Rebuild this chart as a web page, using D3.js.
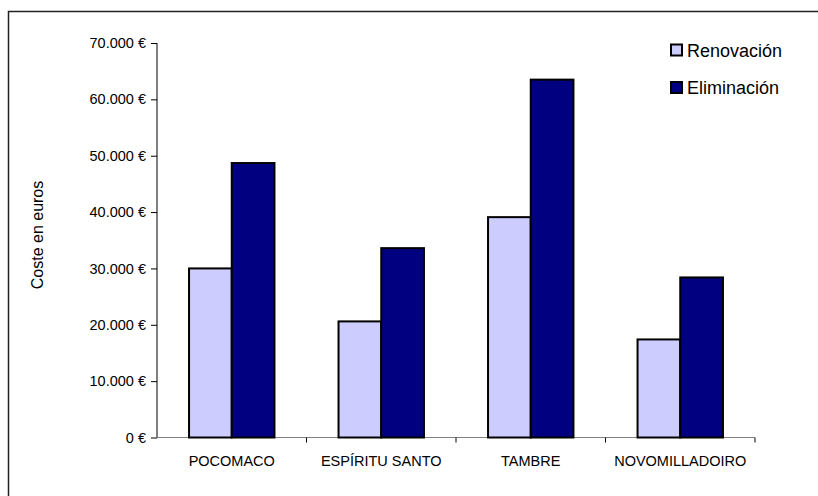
<!DOCTYPE html>
<html>
<head>
<meta charset="utf-8">
<script src="https://cdn.jsdelivr.net/npm/d3@7"></script>
<style>
  html, body { margin: 0; padding: 0; background: #fff; }
  svg { display: block; }
  text { font-family: "Liberation Sans", Arial, sans-serif; fill: #000; }
</style>
</head>
<body>
<svg id="chart" width="818" height="496"></svg>
<script>
const categories = ["POCOMACO", "ESPÍRITU SANTO", "TAMBRE", "NOVOMILLADOIRO"];
const seriesNames = ["Renovación", "Eliminación"];
const renovacion = [30000, 20600, 39100, 17400];
const eliminacion = [48700, 33600, 63500, 28400];
const yTicks = [0, 10000, 20000, 30000, 40000, 50000, 60000, 70000];
const colors = ["#CCCCFF", "#000080"];

(function () {
const svg = d3.select("#chart");
const W = 818, H = 496;
const mLeft = 157, mRight = 755, mTop = 43, mBottom = 437.5;

// outer border
svg.append("rect")
  .attr("x", 8.5).attr("y", 11.5)
  .attr("width", W + 10).attr("height", H + 10)
  .attr("fill", "none").attr("stroke", "#222").attr("stroke-width", 1.5);

const x = d3.scaleBand().domain(categories).range([mLeft, mRight]).paddingInner(0).paddingOuter(0);
const sub = d3.scaleBand().domain(seriesNames).range([0, x.bandwidth()]).paddingInner(0).paddingOuter(0.75);
const y = d3.scaleLinear().domain([0, 70000]).range([mBottom, mTop]);

const fmt = v => d3.format(",")(v).replace(/,/g, ".") + " €";

const data = categories.map((c, i) => ({ cat: c, values: [renovacion[i], eliminacion[i]] }));

// x axis line (under bars)
const xAxisG = svg.append("g").attr("transform", `translate(0,${mBottom})`);
xAxisG.append("line").attr("x1", mLeft).attr("x2", mRight).attr("stroke", "#808080").attr("stroke-width", 1);

// bars
const g = svg.append("g");
data.forEach(d => {
  d.values.forEach((v, j) => {
    g.append("rect")
      .attr("x", x(d.cat) + sub(seriesNames[j]))
      .attr("y", y(v))
      .attr("width", sub.bandwidth())
      .attr("height", y(0) - y(v))
      .attr("fill", colors[j])
      .attr("stroke", "#000")
      .attr("stroke-width", 2);
  });
});

const xTickPos = categories.map(c => x(c)).concat([x.range()[1]]);
xAxisG.selectAll("line.tick").data(xTickPos.slice(1)).enter().append("line")
  .attr("class", "tick").attr("x1", d => d).attr("x2", d => d).attr("y1", 0).attr("y2", 5)
  .attr("stroke", "#000").attr("stroke-width", 1);
xAxisG.selectAll("text").data(categories).enter().append("text")
  .attr("x", d => x(d) + x.bandwidth() / 2).attr("y", 28)
  .attr("text-anchor", "middle").attr("font-size", "14.5px")
  .text(d => d);

// y axis
const yAxis = d3.axisLeft(y).tickValues(yTicks).tickFormat(fmt).tickSize(6).tickPadding(5);
const yAxisG = svg.append("g").attr("transform", `translate(${mLeft},0)`).call(yAxis);
yAxisG.select(".domain").attr("stroke", "#000").attr("d", `M0,${mTop}V${mBottom}`);
yAxisG.selectAll(".tick line").attr("stroke", "#000");
yAxisG.selectAll(".tick text").attr("font-size", "14.5px").attr("font-family", "Liberation Sans, Arial, sans-serif").attr("fill", "#000");

// y title
svg.append("text")
  .attr("transform", `translate(43,235) rotate(-90)`)
  .attr("text-anchor", "middle").attr("font-size", "16px")
  .text("Coste en euros");

// legend
const lg = svg.append("g");
seriesNames.forEach((s, i) => {
  const yy = 44.5 + i * 37.5;
  lg.append("rect").attr("x", 671).attr("y", yy).attr("width", 11).attr("height", 11)
    .attr("fill", colors[i]).attr("stroke", "#000").attr("stroke-width", 2);
  lg.append("text").attr("x", 687).attr("y", yy + 12).attr("font-size", "18px").text(s);
});
})();
</script>
</body>
</html>
